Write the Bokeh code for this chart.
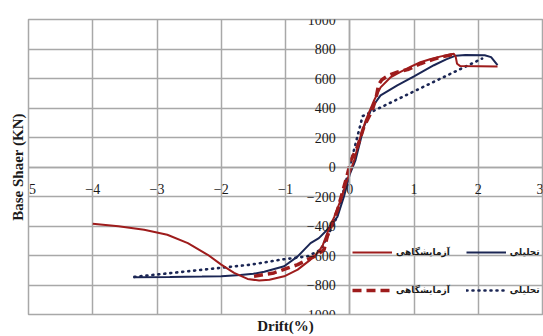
from bokeh.plotting import figure
from bokeh.models import FixedTicker, Legend, LegendItem, Range1d, LinearAxis
from bokeh.embed import file_html
from bokeh.resources import INLINE

# ---- data ----
x_ticks = [-5, -4, -3, -2, -1, 0, 1, 2, 3]
y_ticks = [-1000, -800, -600, -400, -200, 0, 200, 400, 600, 800, 1000]

x_title = "Drift(%)"
y_title = "Base Shaer (KN)"
label_exp = "آزمایشگاهی"
label_ana = "تحلیلی"

exp1_x = [-4.0, -3.6, -3.2, -2.84, -2.52, -2.21, -2.0, -1.8, -1.59, -1.41, -1.25, -1.02,
          -0.81, -0.61, -0.5, -0.42, -0.35, -0.24, -0.14, -0.04, 0.07, 0.15, 0.25, 0.38,
          0.48, 0.64, 0.79, 0.95, 1.1, 1.25, 1.42, 1.62, 1.65, 1.67, 1.72, 2.3]
exp1_y = [-385, -402, -426, -459, -516, -595, -662, -718, -759, -770, -765, -741,
          -696, -628, -583, -530, -448, -336, -223, -88, 47, 182, 318, 453,
          540, 610, 645, 680, 710, 730, 750, 768, 745, 700, 684, 682]

ana1_x = [-3.37, -2.8, -2.3, -2.0, -1.7, -1.5, -1.33, -1.02, -0.81, -0.61, -0.48, -0.35,
          -0.19, -0.09, 0.0, 0.09, 0.22, 0.35, 0.48, 0.74, 1.0, 1.31, 1.5, 1.65, 1.8,
          2.1, 2.2, 2.3]
ana1_y = [-748, -746, -743, -740, -733, -724, -710, -673, -606, -516, -482, -426,
          -336, -200, -50, 47, 272, 407, 486, 554, 615, 690, 730, 755, 760,
          758, 745, 690]

exp2_x = [-1.49, -1.18, -1.0, -0.81, -0.55, -0.40, -0.35, -0.19, -0.06, 0.02, 0.12, 0.22,
          0.35, 0.41, 0.45, 0.5, 0.61, 0.75, 0.9, 1.1, 1.3, 1.45, 1.62]
exp2_y = [-741, -718, -690, -662, -606, -561, -471, -291, -88, 47, 137, 272,
          385, 470, 560, 592, 622, 645, 660, 700, 730, 748, 763]

ana2_x = [-3.35, -1.54, -1.07, -0.66, -0.45, -0.2, 0.2, 2.06]
ana2_y = [-745, -662, -628, -606, -561, -340, 345, 735]

RED = "#9E1C1C"
NAVY = "#1B2654"
GRID = "#A8A8A8"
SERIF = "'Liberation Serif', 'Times New Roman', serif"

p = figure(width=543, height=336, x_range=Range1d(-5, 3), y_range=Range1d(-1000, 1000),
           output_backend="svg", toolbar_location=None,
           min_border_left=28, min_border_right=1, min_border_top=19, min_border_bottom=22)

p.background_fill_color = "white"
p.border_fill_color = "white"
p.outline_line_color = GRID
p.outline_line_width = 1.5

xa = p.xaxis[0]
ya = p.yaxis[0]
xa.fixed_location = 0
ya.fixed_location = 0
xa.ticker = FixedTicker(ticks=x_ticks)
ya.ticker = FixedTicker(ticks=y_ticks)
for ax in (xa, ya):
    ax.major_tick_in = 0
    ax.major_tick_out = 0
    ax.minor_tick_in = 0
    ax.minor_tick_out = 0
    ax.axis_line_color = GRID
    ax.axis_line_width = 1.5
    ax.major_label_text_font = SERIF
    ax.major_label_text_font_size = "14px"
    ax.major_label_text_color = "#1a1a1a"
xa.major_label_standoff = 17
ya.major_label_standoff = 14

p.grid.grid_line_color = GRID
p.grid.grid_line_width = 1.5

# axis titles on separate, tick-less axes in the side panels
for side, text in (("below", x_title), ("left", y_title)):
    t_ax = LinearAxis(ticker=FixedTicker(ticks=[]), axis_label=text,
                      axis_line_color=None, major_tick_in=0, major_tick_out=0,
                      minor_tick_in=0, minor_tick_out=0, major_label_standoff=0,
                      axis_label_standoff=3, axis_label_text_font=SERIF,
                      axis_label_text_font_style="bold", axis_label_text_font_size="15px",
                      axis_label_text_color="#1a1a1a")
    p.add_layout(t_ax, side)

r4 = p.line(ana2_x, ana2_y, line_color=NAVY, line_width=2.6, line_dash="1 5", line_cap="round")
r2 = p.line(ana1_x, ana1_y, line_color=NAVY, line_width=2)
r1 = p.line(exp1_x, exp1_y, line_color=RED, line_width=2)
r3 = p.line(exp2_x, exp2_y, line_color=RED, line_width=3.5, line_dash="9 5")

legend = Legend(items=[LegendItem(label=label_exp, renderers=[r1]),
                       LegendItem(label=label_ana, renderers=[r2]),
                       LegendItem(label=label_exp, renderers=[r3]),
                       LegendItem(label=label_ana, renderers=[r4])],
                location=(324, 13), orientation="horizontal", ncols=2,
                glyph_width=40, glyph_height=22, label_height=22, label_width=46,
                label_standoff=4, spacing=16, padding=0, margin=0,
                border_line_color=None, background_fill_alpha=0,
                label_text_font="DejaVu Sans", label_text_font_style="bold",
                label_text_font_size="9px", label_text_color="#1a1a1a")
p.add_layout(legend)

open("out.html", "w").write(file_html(p, INLINE))
